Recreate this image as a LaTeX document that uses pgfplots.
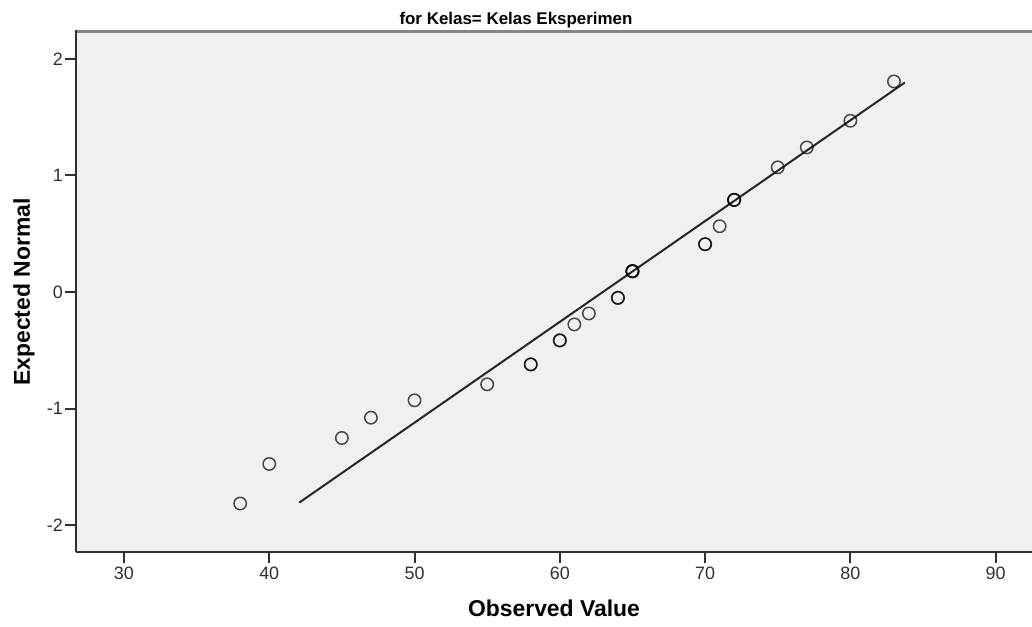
\documentclass[border=0pt]{standalone}
\usepackage{fontspec}
\setmainfont{Liberation Sans}
\usepackage{pgfplots}
\pgfplotsset{compat=1.18}
\definecolor{bg}{HTML}{F0F0F0}
\definecolor{ax}{HTML}{303030}
\definecolor{topline}{HTML}{858585}
\begin{document}
\begin{tikzpicture}
\path[use as bounding box] (-76bp,-75bp) rectangle (956bp,552bp);
\begin{axis}[
  at={(0,0)}, anchor=south west,
  scale only axis, width=956bp, height=520bp,
  xmin=26.7, xmax=92.5, ymin=-2.23, ymax=2.23,
  axis background/.style={fill=bg},
  axis lines*=left,
  axis line style={draw=ax, line width=2bp},
  tick align=outside, major tick length=11bp,
  tick style={draw=ax, line width=2bp},
  xtick={30,40,50,60,70,80,90},
  xticklabels={30,40,50,60,70,80,90},
  ytick={-2,-1,0,1,2},
  yticklabels={-2,-1,0,1,2},
  tick label style={font=\fontsize{18}{20}\selectfont, text=ax, inner sep=2bp},
  xticklabel style={yshift=-2bp},
  xlabel={Observed Value},
  ylabel={Expected Normal},
  xlabel style={at={(axis description cs:0.5,-0.1077)}, anchor=center, font=\fontsize{23}{26}\selectfont\bfseries, text=black},
  ylabel style={at={(axis description cs:-0.0544,0.5)}, anchor=center, font=\fontsize{23}{26}\selectfont\bfseries, text=black},
  clip=false,
]
\addplot[black!85, line width=2bp] coordinates {(42.07,-1.806) (83.75,1.797)};
\addplot[only marks, mark=o, mark size=6.2bp,
  mark options={draw=black, line width=1.5bp, draw opacity=0.7}] coordinates {
(38,-1.814) (40,-1.475) (45,-1.252) (47,-1.078) (50,-0.929) (55,-0.792)
(58,-0.621) (58,-0.621)
(60,-0.415) (60,-0.415)
(61,-0.278) (62,-0.184)
(64,-0.050) (64,-0.050)
(65,0.178) (65,0.178) (65,0.178) (65,0.178)
(70,0.410) (70,0.410)
(71,0.564)
(72,0.790) (72,0.790) (72,0.790)
(75,1.069) (77,1.240) (80,1.469) (83,1.806)
};
\draw[topline, line width=3bp] (rel axis cs:0,1) -- (rel axis cs:1,1);
\draw[ax, line width=2bp] (rel axis cs:0,0) -- (rel axis cs:0,1.003);
\end{axis}
\node[anchor=base, font=\fontsize{17}{20}\selectfont\bfseries] at (440bp,527bp) {for Kelas= Kelas Eksperimen};
\end{tikzpicture}
\end{document}
